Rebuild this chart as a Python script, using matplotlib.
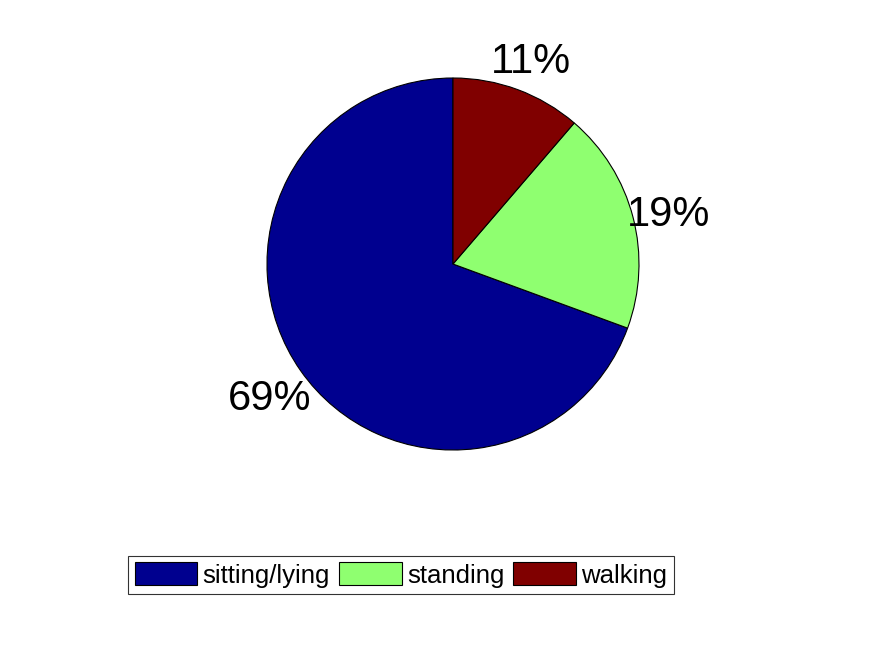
import matplotlib
matplotlib.use('Agg')
import matplotlib.pyplot as plt

plt.rcParams['font.family'] = ['Liberation Sans', 'DejaVu Sans']

# data
activities = ['sitting/lying', 'standing', 'walking']
shares = [69.4, 19.3, 11.3]
pct_labels = ['69%', '19%', '11%']
colors = ['#00008F', '#8FFF70', '#800000']

fig = plt.figure(figsize=(8.75, 6.56), dpi=100)
ax = fig.add_axes([0.2626, 0.2573, 0.5102, 0.6805])

wedges, texts = ax.pie(shares, labels=pct_labels, colors=colors,
                       startangle=90, counterclock=True, radius=1.0,
                       labeldistance=1.2,
                       wedgeprops=dict(edgecolor='black', linewidth=0.8),
                       textprops=dict(fontsize=30, ha='center', va='center'))
# labels sit a little lower in the original
for t in texts:
    x, y = t.get_position()
    t.set_position((x, y - 0.038))

ax.set_xlim(-1.2, 1.2)
ax.set_ylim(-1.2, 1.2)
ax.set_aspect('equal')
ax.axis('off')

leg = fig.legend(wedges, activities, loc='center', ncol=3,
                 bbox_to_anchor=(0.4583, 0.1235), fontsize=18.5,
                 frameon=True, fancybox=False, edgecolor='black',
                 handlelength=2.45, handleheight=0.97, handletextpad=0.2,
                 columnspacing=0.35, borderpad=0.25, borderaxespad=0)
leg.get_frame().set_linewidth(0.8)

fig.savefig('out.png', dpi=100)
